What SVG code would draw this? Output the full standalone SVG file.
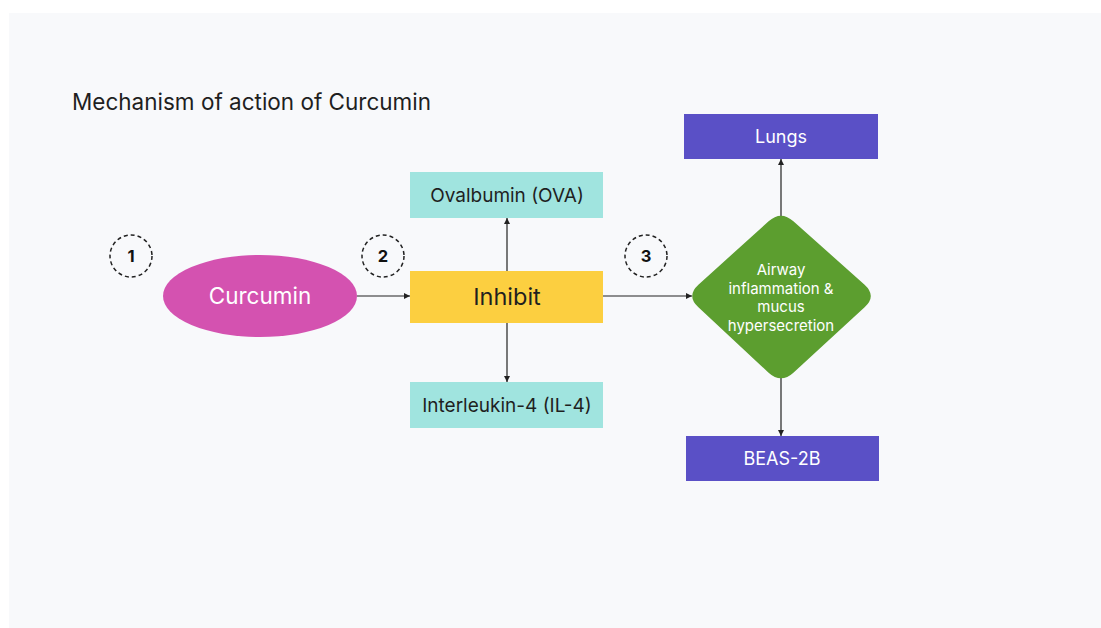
<svg xmlns="http://www.w3.org/2000/svg" width="1101" height="628" viewBox="0 0 1101 628">
<defs>
<marker id="arr" viewBox="0 0 6 6" refX="6" refY="3" markerWidth="6" markerHeight="6" markerUnits="userSpaceOnUse" orient="auto">
<path d="M0,0 L6,3 L0,6 Z" fill="#222"/>
</marker>
<style>
text{font-family:Inter,"DejaVu Sans",sans-serif;text-anchor:middle}
.step{fill:none;stroke:#222;stroke-width:1.5;stroke-dasharray:4 3}
.num{font-size:16.5px;font-weight:700;fill:#111}
.con{stroke:#222;stroke-width:1.2;fill:none;marker-end:url(#arr)}
.teal{fill:#a0e4df}
.purple{fill:#5a50c6}
.dark{fill:#1f1f1f}
.white{fill:#ffffff}
</style>
</defs>
<rect x="0" y="0" width="1101" height="628" fill="#ffffff"/>
<rect x="9" y="13" width="1092" height="615" fill="#f8f9fb"/>
<text x="72" y="110" style="text-anchor:start;font-size:22.5px" class="dark">Mechanism of action of Curcumin</text>

<g id="step1"><circle cx="131" cy="256" r="21" class="step"/><text x="131" y="262" class="num">1</text></g>
<g id="step2"><circle cx="383" cy="256" r="21" class="step"/><text x="383" y="262" class="num">2</text></g>
<g id="step3"><circle cx="646" cy="256" r="21" class="step"/><text x="646" y="262" class="num">3</text></g>

<g id="connectors">
<line x1="357" y1="296" x2="410" y2="296" class="con"/>
<line x1="507" y1="271" x2="507" y2="218" class="con"/>
<line x1="507" y1="323" x2="507" y2="382" class="con"/>
<line x1="603" y1="296" x2="692" y2="296" class="con"/>
<line x1="781" y1="216" x2="781" y2="159" class="con"/>
<line x1="781" y1="378" x2="781" y2="436" class="con"/>
</g>

<g id="curcumin">
<ellipse cx="260" cy="296" rx="97" ry="41" fill="#d452b0"/>
<text x="260" y="304" style="font-size:22.5px" class="white">Curcumin</text>
</g>
<g id="inhibit">
<rect x="410" y="271" width="193" height="52" fill="#fccf40"/>
<text x="507" y="305" style="font-size:23.5px" class="dark">Inhibit</text>
</g>
<g id="ova">
<rect x="410" y="172" width="193" height="46" class="teal"/>
<text x="507" y="202" style="font-size:19px" class="dark">Ovalbumin (OVA)</text>
</g>
<g id="il4">
<rect x="410" y="382" width="193" height="46" class="teal"/>
<text x="507" y="412" style="font-size:19px" class="dark">Interleukin-4 (IL-4)</text>
</g>
<g id="airway">
<path d="M768.6,221.3 Q781.0,210 793.4,221.3 L864.6,284.7 Q877,296 864.6,307.3 L793.4,372.7 Q781,384 768.6,372.7 L698.4,307.3 Q686,296 698.4,284.7 Z" fill="#5c9e2f"/>
<text x="781" y="275" style="font-size:15px" class="white">Airway</text>
<text x="781" y="294" style="font-size:15px" class="white">inflammation &amp;</text>
<text x="781" y="312" style="font-size:15px" class="white">mucus</text>
<text x="781" y="331" style="font-size:15px" class="white">hypersecretion</text>
</g>
<g id="lungs">
<rect x="684" y="114" width="194" height="45" class="purple"/>
<text x="781" y="143" style="font-size:18px" class="white">Lungs</text>
</g>
<g id="beas">
<rect x="686" y="436" width="193" height="45" class="purple"/>
<text x="782" y="465" style="font-size:18px" class="white">BEAS-2B</text>
</g>
</svg>
